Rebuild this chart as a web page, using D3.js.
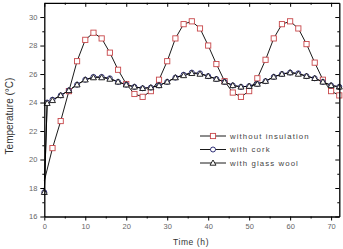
<!DOCTYPE html>
<html><head><meta charset="utf-8">
<script src="https://cdn.jsdelivr.net/npm/d3@7/dist/d3.min.js"></script>
<style>body{margin:0;background:#fff}svg{display:block}</style>
</head><body><svg id="c" width="343" height="249"></svg>
<script>
// ---- data ----
const timeRed = [0,2,4,6,8,10,12,14,16,18,20,22,24,26,28,30,32,34,36,38,40,42,44,46,48,50,52,54,56,58,60,62,64,66,68,70,72];
const withoutInsulation = [18.5,20.8,22.7,24.8,26.9,28.4,28.9,28.5,27.5,26.3,25.3,24.6,24.4,24.8,25.6,26.9,28.5,29.5,29.7,29.2,28.0,26.7,25.5,24.7,24.4,24.8,25.7,27.0,28.5,29.5,29.7,29.2,28.1,26.8,25.6,24.8,24.5];
const timeIns = [0,0.7,2,4,6,8,10,12,14,16,18,20,22,24,26,28,30,32,34,36,38,40,42,44,46,48,50,52,54,56,58,60,62,64,66,68,70,72];
const withCork = [17.7,24.0,24.2,24.5,24.85,25.25,25.6,25.8,25.8,25.7,25.45,25.25,25.1,25.0,25.05,25.2,25.45,25.75,25.95,26.1,26.05,25.85,25.65,25.45,25.2,25.1,25.15,25.3,25.5,25.8,26.0,26.1,26.05,25.85,25.7,25.45,25.2,25.1];
const withGlassWool = [17.7,23.95,24.15,24.5,24.85,25.25,25.6,25.75,25.75,25.65,25.45,25.25,25.1,25.0,25.05,25.2,25.45,25.75,25.9,26.05,26.0,25.85,25.65,25.45,25.2,25.1,25.15,25.3,25.5,25.8,26.0,26.1,26.0,25.85,25.7,25.45,25.2,25.1];
const xTicks = [0,10,20,30,40,50,60,70];
const yTicks = [16,18,20,22,24,26,28,30];
const seriesNames = ["without insulation","with cork","with glass wool"];

// ---- layout ----
const W=343,H=249, m={l:44.3,r:3.7,t:2.8,b:32.5};
const svg=d3.select("#c");
const x=d3.scaleLinear().domain([0,72]).range([m.l,W-m.r]);
const y=d3.scaleLinear().domain([16,31]).range([H-m.b,m.t]);
const font="Arial, 'Liberation Sans', sans-serif";

const series=[
 {name:seriesNames[0], t:timeRed, v:withoutInsulation, shape:"square", color:"#c8474a", skipFirst:true},
 {name:seriesNames[1], t:timeIns, v:withCork, shape:"circle", color:"#1c1c6a"},
 {name:seriesNames[2], t:timeIns, v:withGlassWool, shape:"triangle", color:"#111"}
];

function marker(g,shape,color,cx,cy){
  if(shape==="square") g.append("rect").attr("x",cx-2.6).attr("y",cy-2.6).attr("width",5.2).attr("height",5.2).attr("fill","#fff").attr("stroke",color).attr("stroke-width",0.9);
  else if(shape==="circle") g.append("circle").attr("cx",cx).attr("cy",cy).attr("r",2.5).attr("fill","#fff").attr("stroke",color).attr("stroke-width",0.9);
  else g.append("path").attr("d",`M${cx},${cy-3}L${cx+3},${cy+2.2}L${cx-3},${cy+2.2}Z`).attr("fill","#fff").attr("stroke",color).attr("stroke-width",0.9);
}

const line=d3.line().x(d=>x(d[0])).y(d=>y(d[1]));
const plot=svg.append("g");
series.forEach(s=>{
  const pts=s.t.map((t,i)=>[t,s.v[i]]);
  plot.append("path").attr("d",line(pts)).attr("fill","none").attr("stroke","#000").attr("stroke-width",0.9);
});
series.forEach(s=>{
  s.t.forEach((t,i)=>{ if(s.skipFirst&&i===0) return; marker(plot,s.shape,s.color,x(t),y(s.v[i])); });
});

// ---- axes ----
const ax=svg.append("g").attr("font-family",font);
const minorX=d3.range(5,72,10), minorY=d3.range(17,31,2);
function styleAxis(g){ g.select(".domain").attr("stroke","#000").attr("stroke-width",1.3); g.selectAll(".tick line").attr("stroke","#000").attr("stroke-width",1); g.selectAll("text").attr("fill","#666").attr("font-size","7.5px").attr("font-family",font); }
ax.append("g").attr("transform",`translate(0,${H-m.b})`).call(d3.axisBottom(x).tickValues(xTicks).tickSize(4).tickPadding(3).tickSizeOuter(0)).call(styleAxis);
ax.append("g").attr("transform",`translate(0,${H-m.b})`).call(d3.axisBottom(x).tickValues(minorX).tickSize(2).tickFormat("")).call(g=>{g.select(".domain").remove();g.selectAll("line").attr("stroke","#000");});
ax.append("g").attr("transform",`translate(${m.l},0)`).call(d3.axisLeft(y).tickValues(yTicks).tickSize(4).tickPadding(3).tickSizeOuter(0)).call(styleAxis);
ax.append("g").attr("transform",`translate(${m.l},0)`).call(d3.axisLeft(y).tickValues(minorY).tickSize(2).tickFormat("")).call(g=>{g.select(".domain").remove();g.selectAll("line").attr("stroke","#000");});
// mirrored top & right (inward)
ax.append("g").attr("transform",`translate(0,${m.t})`).call(d3.axisBottom(x).tickValues(xTicks).tickSize(4).tickFormat("").tickSizeOuter(0)).call(styleAxis);
ax.append("g").attr("transform",`translate(0,${m.t})`).call(d3.axisBottom(x).tickValues(minorX).tickSize(2).tickFormat("")).call(g=>{g.select(".domain").remove();g.selectAll("line").attr("stroke","#000");});
ax.append("g").attr("transform",`translate(${W-m.r},0)`).call(d3.axisLeft(y).tickValues(yTicks).tickSize(4).tickFormat("").tickSizeOuter(0)).call(styleAxis);
ax.append("g").attr("transform",`translate(${W-m.r},0)`).call(d3.axisLeft(y).tickValues(minorY).tickSize(2).tickFormat("")).call(g=>{g.select(".domain").remove();g.selectAll("line").attr("stroke","#000");});

// titles
svg.append("text").attr("x",191).attr("y",245).attr("text-anchor","middle").attr("font-family",font).attr("font-size","8.5px").attr("fill","#333").attr("letter-spacing","0.6px").text("Time (h)");
svg.append("text").attr("transform",`translate(12.5,116) rotate(-90)`).attr("text-anchor","middle").attr("font-family",font).attr("font-size","10px").attr("fill","#333").text("Temperature (°C)");

// legend
const lg=svg.append("g");
series.forEach((s,i)=>{
  const ly=136+i*13.5;
  lg.append("line").attr("x1",200).attr("x2",226).attr("y1",ly).attr("y2",ly).attr("stroke","#000").attr("stroke-width",0.9);
  marker(lg,s.shape,s.color,213,ly);
  lg.append("text").attr("x",230).attr("y",ly+2.8).attr("font-family",font).attr("font-size","7.8px").attr("fill","#444").attr("letter-spacing","1.1px").text(s.name);
});
</script></body></html>
